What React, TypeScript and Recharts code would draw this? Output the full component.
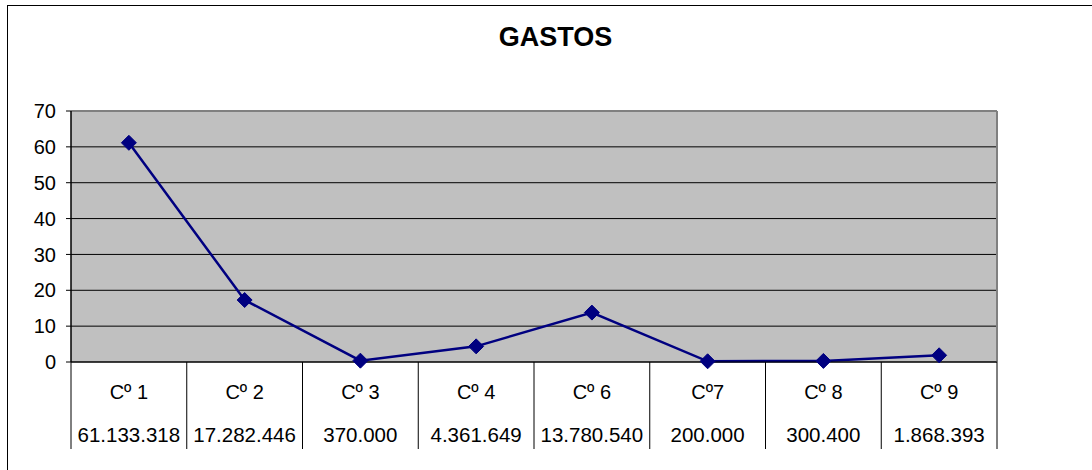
import { LineChart, Line, XAxis, YAxis, CartesianGrid, ReferenceLine } from "recharts";

// categories and the amounts in the table under the axis
const categories = ["Cº 1", "Cº 2", "Cº 3", "Cº 4", "Cº 6", "Cº7", "Cº 8", "Cº 9"];
const amounts = ["61.133.318", "17.282.446", "370.000", "4.361.649", "13.780.540", "200.000", "300.400", "1.868.393"];
// gastos in millions
const gastos = [61.133318, 17.282446, 0.37, 4.361649, 13.78054, 0.2, 0.3004, 1.868393];
const yTicks = [0, 10, 20, 30, 40, 50, 60, 70];

const data = categories.map((name, i) => ({ name, amount: amounts[i], gastos: gastos[i] }));

const FONT = "Arial, 'Liberation Sans', sans-serif";
const NAVY = "#000080";

const TableTick = (props: any) => {
  const { x, y, payload, index } = props;
  const bw = 926 / categories.length;
  const amount = amounts[index];
  return (
    <g>
      <line x1={x - bw / 2} y1={y} x2={x - bw / 2} y2={y + 87} stroke="#000" strokeWidth={1} />
      {index === categories.length - 1 && (
        <line x1={x + bw / 2} y1={y} x2={x + bw / 2} y2={y + 87} stroke="#000" strokeWidth={1} />
      )}
      <text x={x} y={y + 37} textAnchor="middle" fontSize={20} fontFamily={FONT} fill="#000">
        {payload.value}
      </text>
      <text x={x} y={y + 80} textAnchor="middle" fontSize={20.5} fontFamily={FONT} fill="#000">
        {amount}
      </text>
    </g>
  );
};

const Diamond = (props: any) => {
  const { cx, cy } = props;
  if (cx == null || cy == null) return null;
  const r = 7.5;
  return (
    <polygon
      points={`${cx},${cy - r} ${cx + r},${cy} ${cx},${cy + r} ${cx - r},${cy}`}
      fill={NAVY}
      stroke={NAVY}
    />
  );
};

export default function App() {
  return (
    <div style={{ position: "absolute", left: 0, top: 0, width: 1092, height: 470, overflow: "hidden", background: "#fff" }}>
      <div
        style={{
          position: "absolute",
          left: 7,
          top: 5,
          width: 1200,
          height: 600,
          border: "1.5px solid #000",
        }}
      />
      <div
        style={{
          position: "absolute",
          left: 0,
          top: 22,
          width: 1111,
          textAlign: "center",
          fontFamily: FONT,
          fontWeight: "bold",
          fontSize: 27,
          color: "#000",
        }}
      >
        GASTOS
      </div>
      <div style={{ position: "absolute", left: 0, top: 0 }}>
        <LineChart width={1092} height={470} data={data} margin={{ top: 111, right: 95, bottom: 0, left: 0 }}>
          <CartesianGrid fill="#C0C0C0" stroke="#000" vertical={false} fillOpacity={1} />
          <XAxis
            dataKey="name"
            scale="band"
            interval={0}
            height={108}
            tickLine={false}
            tickSize={0}
            tickMargin={0}
            axisLine={{ stroke: "#000", strokeWidth: 1 }}
            tick={<TableTick />}
          />
          <YAxis
            domain={[0, 70]}
            ticks={yTicks}
            width={71}
            interval={0}
            tickSize={5}
            tickMargin={10}
            axisLine={{ stroke: "#000", strokeWidth: 1.5 }}
            tickLine={{ stroke: "#000" }}
            tick={{ fill: "#000", fontSize: 20, fontFamily: FONT }}
          />
          <ReferenceLine y={70} stroke="#808080" strokeWidth={2} />
          <ReferenceLine x="Cº 9" position="end" stroke="#808080" strokeWidth={2} />
          <Line
            type="linear"
            dataKey="gastos"
            stroke={NAVY}
            strokeWidth={2.5}
            dot={<Diamond />}
            activeDot={false}
            isAnimationActive={false}
          />
        </LineChart>
      </div>
    </div>
  );
}
